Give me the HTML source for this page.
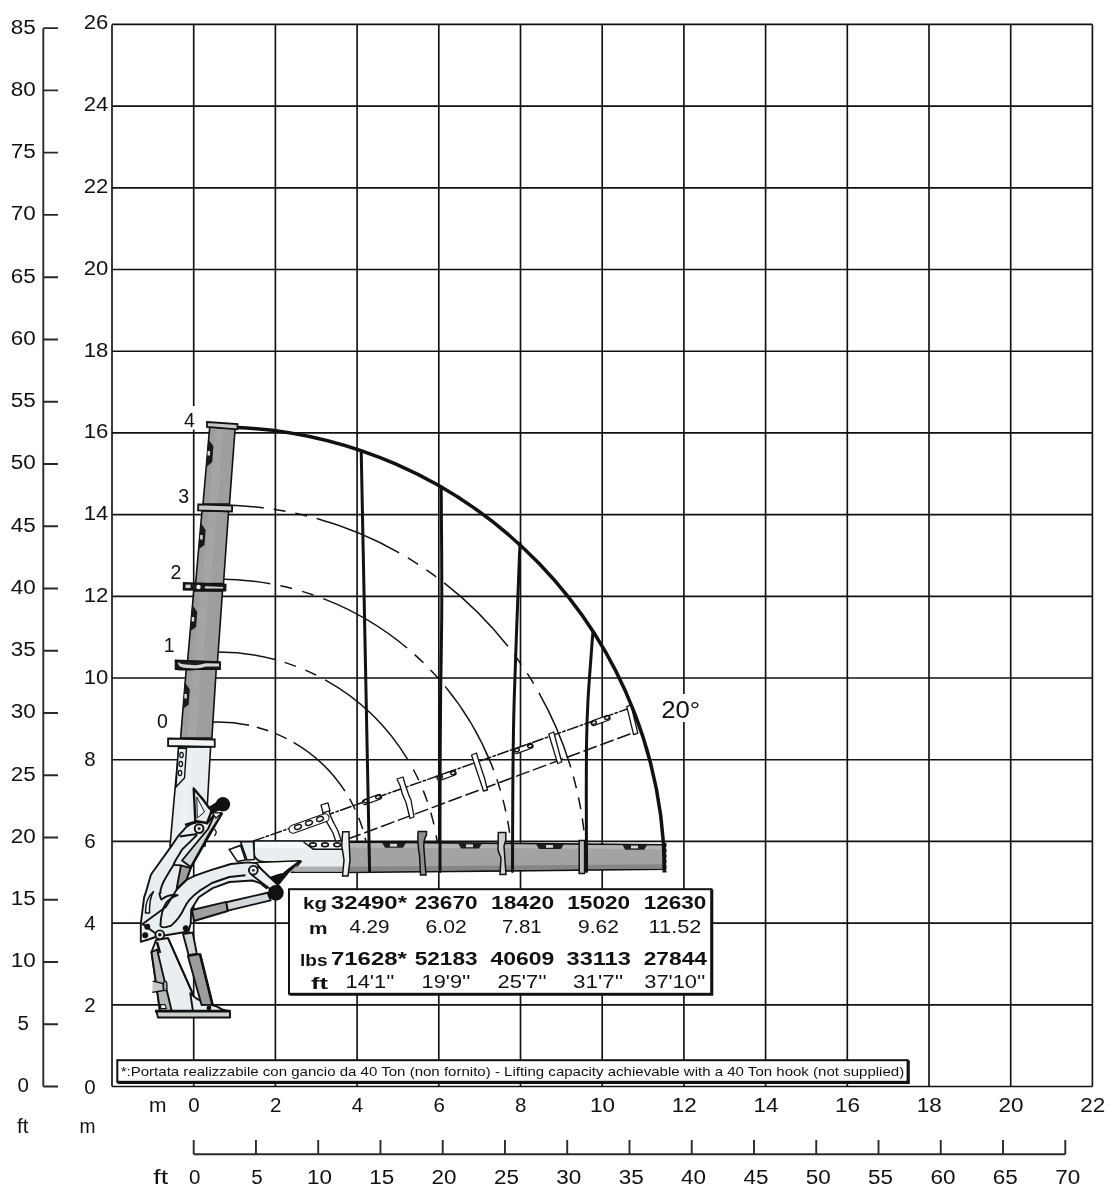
<!DOCTYPE html><html><head><meta charset="utf-8"><style>html,body{margin:0;padding:0;background:#fff;width:1112px;height:1200px;overflow:hidden}svg{display:block;will-change:transform}</style></head><body><svg width="1112" height="1200" viewBox="0 0 1112 1200"><path d="M112 24.4V1086.5M193.7 24.4V1086.5M275.4 24.4V1086.5M357.1 24.4V1086.5M438.8 24.4V1086.5M520.5 24.4V1086.5M602.2 24.4V1086.5M683.9 24.4V1086.5M765.6 24.4V1086.5M847.3 24.4V1086.5M929 24.4V1086.5M1010.7 24.4V1086.5M1092.4 24.4V1086.5M112 1086.5H1092.4M112 1004.8H1092.4M112 923.1H1092.4M112 841.4H1092.4M112 759.7H1092.4M112 678H1092.4M112 596.3H1092.4M112 514.6H1092.4M112 432.9H1092.4M112 351.2H1092.4M112 269.5H1092.4M112 187.8H1092.4M112 106.1H1092.4M112 24.4H1092.4" stroke="#111" stroke-width="1.65" fill="none"/>
<rect x="181" y="406" width="16" height="23.5" fill="#fff"/>
<path d="M43.3 28.16V1086.5M43.3 1086.5H58M43.3 1024.24H58M43.3 961.99H58M43.3 899.73H58M43.3 837.48H58M43.3 775.22H58M43.3 712.97H58M43.3 650.71H58M43.3 588.46H58M43.3 526.2H58M43.3 463.95H58M43.3 401.69H58M43.3 339.44H58M43.3 277.18H58M43.3 214.92H58M43.3 152.67H58M43.3 90.41H58M43.3 28.16H58" stroke="#2a2a2a" stroke-width="1.9" fill="none"/>
<path d="M193.7 1154.2H1065.28M193.7 1140V1154.2M255.96 1140V1154.2M318.21 1140V1154.2M380.47 1140V1154.2M442.72 1140V1154.2M504.98 1140V1154.2M567.23 1140V1154.2M629.49 1140V1154.2M691.74 1140V1154.2M754 1140V1154.2M816.25 1140V1154.2M878.51 1140V1154.2M940.76 1140V1154.2M1003.02 1140V1154.2M1065.28 1140V1154.2" stroke="#2a2a2a" stroke-width="1.9" fill="none"/>
<g font-family="'Liberation Sans', sans-serif" fill="#111">
<text x="84.3" y="1093.5" font-size="20.5" text-anchor="start" font-weight="normal">0</text>
<text x="84.3" y="1011.62" font-size="20.5" text-anchor="start" font-weight="normal">2</text>
<text x="84.3" y="929.75" font-size="20.5" text-anchor="start" font-weight="normal">4</text>
<text x="84.3" y="847.87" font-size="20.5" text-anchor="start" font-weight="normal">6</text>
<text x="84.3" y="765.99" font-size="20.5" text-anchor="start" font-weight="normal">8</text>
<text x="83.7" y="684.12" font-size="20.5" text-anchor="start" font-weight="normal" textLength="24.6" lengthAdjust="spacingAndGlyphs">10</text>
<text x="83.7" y="602.24" font-size="20.5" text-anchor="start" font-weight="normal" textLength="24.6" lengthAdjust="spacingAndGlyphs">12</text>
<text x="83.7" y="520.36" font-size="20.5" text-anchor="start" font-weight="normal" textLength="24.6" lengthAdjust="spacingAndGlyphs">14</text>
<text x="83.7" y="438.48" font-size="20.5" text-anchor="start" font-weight="normal" textLength="24.6" lengthAdjust="spacingAndGlyphs">16</text>
<text x="83.7" y="356.61" font-size="20.5" text-anchor="start" font-weight="normal" textLength="24.6" lengthAdjust="spacingAndGlyphs">18</text>
<text x="83.7" y="274.73" font-size="20.5" text-anchor="start" font-weight="normal" textLength="24.6" lengthAdjust="spacingAndGlyphs">20</text>
<text x="83.7" y="192.85" font-size="20.5" text-anchor="start" font-weight="normal" textLength="24.6" lengthAdjust="spacingAndGlyphs">22</text>
<text x="83.7" y="110.98" font-size="20.5" text-anchor="start" font-weight="normal" textLength="24.6" lengthAdjust="spacingAndGlyphs">24</text>
<text x="83.7" y="29.1" font-size="20.5" text-anchor="start" font-weight="normal" textLength="24.6" lengthAdjust="spacingAndGlyphs">26</text>
<text x="23.3" y="1091.9" font-size="20.5" text-anchor="middle" font-weight="normal">0</text>
<text x="23.3" y="1029.64" font-size="20.5" text-anchor="middle" font-weight="normal">5</text>
<text x="23.3" y="967.39" font-size="20.5" text-anchor="middle" font-weight="normal" textLength="25" lengthAdjust="spacingAndGlyphs">10</text>
<text x="23.3" y="905.13" font-size="20.5" text-anchor="middle" font-weight="normal" textLength="25" lengthAdjust="spacingAndGlyphs">15</text>
<text x="23.3" y="842.88" font-size="20.5" text-anchor="middle" font-weight="normal" textLength="25" lengthAdjust="spacingAndGlyphs">20</text>
<text x="23.3" y="780.62" font-size="20.5" text-anchor="middle" font-weight="normal" textLength="25" lengthAdjust="spacingAndGlyphs">25</text>
<text x="23.3" y="718.37" font-size="20.5" text-anchor="middle" font-weight="normal" textLength="25" lengthAdjust="spacingAndGlyphs">30</text>
<text x="23.3" y="656.11" font-size="20.5" text-anchor="middle" font-weight="normal" textLength="25" lengthAdjust="spacingAndGlyphs">35</text>
<text x="23.3" y="593.86" font-size="20.5" text-anchor="middle" font-weight="normal" textLength="25" lengthAdjust="spacingAndGlyphs">40</text>
<text x="23.3" y="531.6" font-size="20.5" text-anchor="middle" font-weight="normal" textLength="25" lengthAdjust="spacingAndGlyphs">45</text>
<text x="23.3" y="469.35" font-size="20.5" text-anchor="middle" font-weight="normal" textLength="25" lengthAdjust="spacingAndGlyphs">50</text>
<text x="23.3" y="407.09" font-size="20.5" text-anchor="middle" font-weight="normal" textLength="25" lengthAdjust="spacingAndGlyphs">55</text>
<text x="23.3" y="344.84" font-size="20.5" text-anchor="middle" font-weight="normal" textLength="25" lengthAdjust="spacingAndGlyphs">60</text>
<text x="23.3" y="282.58" font-size="20.5" text-anchor="middle" font-weight="normal" textLength="25" lengthAdjust="spacingAndGlyphs">65</text>
<text x="23.3" y="220.32" font-size="20.5" text-anchor="middle" font-weight="normal" textLength="25" lengthAdjust="spacingAndGlyphs">70</text>
<text x="23.3" y="158.07" font-size="20.5" text-anchor="middle" font-weight="normal" textLength="25" lengthAdjust="spacingAndGlyphs">75</text>
<text x="23.3" y="95.81" font-size="20.5" text-anchor="middle" font-weight="normal" textLength="25" lengthAdjust="spacingAndGlyphs">80</text>
<text x="23.3" y="33.56" font-size="20.5" text-anchor="middle" font-weight="normal" textLength="25" lengthAdjust="spacingAndGlyphs">85</text>
<text x="194" y="1111.5" font-size="20.5" text-anchor="middle" font-weight="normal">0</text>
<text x="275.7" y="1111.5" font-size="20.5" text-anchor="middle" font-weight="normal">2</text>
<text x="357.4" y="1111.5" font-size="20.5" text-anchor="middle" font-weight="normal">4</text>
<text x="439.1" y="1111.5" font-size="20.5" text-anchor="middle" font-weight="normal">6</text>
<text x="520.8" y="1111.5" font-size="20.5" text-anchor="middle" font-weight="normal">8</text>
<text x="602.5" y="1111.5" font-size="20.5" text-anchor="middle" font-weight="normal" textLength="25" lengthAdjust="spacingAndGlyphs">10</text>
<text x="684.2" y="1111.5" font-size="20.5" text-anchor="middle" font-weight="normal" textLength="25" lengthAdjust="spacingAndGlyphs">12</text>
<text x="765.9" y="1111.5" font-size="20.5" text-anchor="middle" font-weight="normal" textLength="25" lengthAdjust="spacingAndGlyphs">14</text>
<text x="847.6" y="1111.5" font-size="20.5" text-anchor="middle" font-weight="normal" textLength="25" lengthAdjust="spacingAndGlyphs">16</text>
<text x="929.3" y="1111.5" font-size="20.5" text-anchor="middle" font-weight="normal" textLength="25" lengthAdjust="spacingAndGlyphs">18</text>
<text x="1011" y="1111.5" font-size="20.5" text-anchor="middle" font-weight="normal" textLength="25" lengthAdjust="spacingAndGlyphs">20</text>
<text x="1092.7" y="1111.5" font-size="20.5" text-anchor="middle" font-weight="normal" textLength="25" lengthAdjust="spacingAndGlyphs">22</text>
<text x="194.7" y="1184.3" font-size="20.5" text-anchor="middle" font-weight="normal">0</text>
<text x="257.06" y="1184.3" font-size="20.5" text-anchor="middle" font-weight="normal">5</text>
<text x="319.41" y="1184.3" font-size="20.5" text-anchor="middle" font-weight="normal" textLength="25" lengthAdjust="spacingAndGlyphs">10</text>
<text x="381.77" y="1184.3" font-size="20.5" text-anchor="middle" font-weight="normal" textLength="25" lengthAdjust="spacingAndGlyphs">15</text>
<text x="444.12" y="1184.3" font-size="20.5" text-anchor="middle" font-weight="normal" textLength="25" lengthAdjust="spacingAndGlyphs">20</text>
<text x="506.48" y="1184.3" font-size="20.5" text-anchor="middle" font-weight="normal" textLength="25" lengthAdjust="spacingAndGlyphs">25</text>
<text x="568.83" y="1184.3" font-size="20.5" text-anchor="middle" font-weight="normal" textLength="25" lengthAdjust="spacingAndGlyphs">30</text>
<text x="631.19" y="1184.3" font-size="20.5" text-anchor="middle" font-weight="normal" textLength="25" lengthAdjust="spacingAndGlyphs">35</text>
<text x="693.54" y="1184.3" font-size="20.5" text-anchor="middle" font-weight="normal" textLength="25" lengthAdjust="spacingAndGlyphs">40</text>
<text x="755.9" y="1184.3" font-size="20.5" text-anchor="middle" font-weight="normal" textLength="25" lengthAdjust="spacingAndGlyphs">45</text>
<text x="818.25" y="1184.3" font-size="20.5" text-anchor="middle" font-weight="normal" textLength="25" lengthAdjust="spacingAndGlyphs">50</text>
<text x="880.61" y="1184.3" font-size="20.5" text-anchor="middle" font-weight="normal" textLength="25" lengthAdjust="spacingAndGlyphs">55</text>
<text x="942.96" y="1184.3" font-size="20.5" text-anchor="middle" font-weight="normal" textLength="25" lengthAdjust="spacingAndGlyphs">60</text>
<text x="1005.32" y="1184.3" font-size="20.5" text-anchor="middle" font-weight="normal" textLength="25" lengthAdjust="spacingAndGlyphs">65</text>
<text x="1067.68" y="1184.3" font-size="20.5" text-anchor="middle" font-weight="normal" textLength="25" lengthAdjust="spacingAndGlyphs">70</text>
<text x="157.7" y="1111.5" font-size="20.5" text-anchor="middle" font-weight="normal" textLength="17.5" lengthAdjust="spacingAndGlyphs">m</text>
<text x="160.7" y="1184.3" font-size="20.5" text-anchor="middle" font-weight="normal" textLength="15" lengthAdjust="spacingAndGlyphs">ft</text>
<text x="22.8" y="1132.8" font-size="20.5" text-anchor="middle" font-weight="normal">ft</text>
<text x="87.5" y="1132.8" font-size="20.5" text-anchor="middle" font-weight="normal" textLength="16" lengthAdjust="spacingAndGlyphs">m</text>
<text x="189.35" y="427" font-size="19.5" text-anchor="middle" font-weight="normal">4</text>
<text x="183.8" y="502.9" font-size="19.5" text-anchor="middle" font-weight="normal">3</text>
<text x="175.9" y="579" font-size="19.5" text-anchor="middle" font-weight="normal">2</text>
<text x="169.25" y="651.9" font-size="19.5" text-anchor="middle" font-weight="normal">1</text>
<text x="162.5" y="728.1" font-size="19.5" text-anchor="middle" font-weight="normal">0</text>
</g>
<path d="M209.54 722.21A152 152 0 0 1 249.1 725.32M293.5 742.36A152 152 0 0 1 344.98 791.21M205.88 652.3A222 222 0 0 1 274.96 659.56M325.13 679.83A222 222 0 0 1 407.79 759.66M207.2 579.18A295 295 0 0 1 270.25 583.75M323.22 598.59A295 295 0 0 1 407.12 648.02M445.13 686.36A295 295 0 0 1 493.64 770.21M211.06 505.06A369 369 0 0 1 263.75 507.91M316.73 518.59A369 369 0 0 1 399.2 552.84M444.17 582.83A369 369 0 0 1 507.88 646.31M538.98 692.86A369 369 0 0 1 570.75 767.35" stroke="#111" stroke-width="1.5" fill="none"/>
<path d="M249.1 725.32A152 152 0 0 1 293.5 742.36" stroke="#111" stroke-width="1.5" fill="none" stroke-dasharray="12 7.92" stroke-dashoffset="12"/>
<path d="M344.98 791.21A152 152 0 0 1 368.67 858.11" stroke="#111" stroke-width="1.5" fill="none" stroke-dasharray="12 8.91" stroke-dashoffset="12"/>
<path d="M274.96 659.56A222 222 0 0 1 325.13 679.83" stroke="#111" stroke-width="1.5" fill="none" stroke-dasharray="12 10.08" stroke-dashoffset="12"/>
<path d="M407.79 759.66A222 222 0 0 1 438.96 858.51" stroke="#111" stroke-width="1.5" fill="none" stroke-dasharray="12 11.32" stroke-dashoffset="12"/>
<path d="M270.25 583.75A295 295 0 0 1 323.22 598.59" stroke="#111" stroke-width="1.5" fill="none" stroke-dasharray="12 10.36" stroke-dashoffset="12"/>
<path d="M407.12 648.02A295 295 0 0 1 445.13 686.36" stroke="#111" stroke-width="1.5" fill="none" stroke-dasharray="12 10.02" stroke-dashoffset="12"/>
<path d="M493.64 770.21A295 295 0 0 1 512.32 863.7" stroke="#111" stroke-width="1.5" fill="none" stroke-dasharray="12 9.55" stroke-dashoffset="12"/>
<path d="M263.75 507.91A369 369 0 0 1 316.73 518.59" stroke="#111" stroke-width="1.5" fill="none" stroke-dasharray="12 10.03" stroke-dashoffset="12"/>
<path d="M399.2 552.84A369 369 0 0 1 444.17 582.83" stroke="#111" stroke-width="1.5" fill="none" stroke-dasharray="12 10.03" stroke-dashoffset="12"/>
<path d="M507.88 646.31A369 369 0 0 1 538.98 692.86" stroke="#111" stroke-width="1.5" fill="none" stroke-dasharray="12 10.68" stroke-dashoffset="12"/>
<path d="M570.75 767.35A369 369 0 0 1 586.28 861.12" stroke="#111" stroke-width="1.5" fill="none" stroke-dasharray="12 9.46" stroke-dashoffset="12"/><g stroke-linejoin="round" stroke-linecap="round">
<!-- inclined boom 20deg -->
<path d="M253.5 841L627.8 708.8" stroke="#111" stroke-width="1.5" fill="none" stroke-dasharray="11 2.5 2.5 2.5"/>
<path d="M347.9 839L633.8 732.5" stroke="#111" stroke-width="1.5" fill="none" stroke-dasharray="13 5"/>
<g fill="#fff" stroke="#111" stroke-width="1.3">
<path d="M626.8 706.6l4.2-1.6 6.8 28.2-4.2 1.5z"/>
<path d="M321 805l7-2.2 2 8-7 2.2z"/>
<path d="M323 813l6-2c2 8 6 14 9 20l3 9-5 2-3-9c-3-6-8-12-10-20z"/>
<path d="M397 779l6-2 2 7c2 6 3 10 6 16l3 17-4 1.5-4-16c-3-6-5-12-6-17z"/>
<path d="M471.5 755l5-2 2 7 6 18 3 12-4 1-4-12-4-12z"/>
<path d="M548.7 734l5-2 8 30-4 1.5z"/>
</g>
<g fill="#fff" stroke="#111" stroke-width="1.1">
<rect x="-21" y="-4" width="42" height="8" rx="4" transform="translate(309 823.5) rotate(-19.5)"/>
<rect x="-10" y="-2.5" width="20" height="5" rx="2.5" transform="translate(446.5 775.5) rotate(-19.5)"/>
<rect x="-10" y="-2.5" width="20" height="5" rx="2.5" transform="translate(523.5 748.5) rotate(-19.5)"/>
<rect x="-10" y="-2.5" width="20" height="5" rx="2.5" transform="translate(600.5 720.5) rotate(-19.5)"/>
<rect x="-10" y="-2.5" width="20" height="5" rx="2.5" transform="translate(372 799.5) rotate(-19.5)"/>
</g>
<g fill="none" stroke="#111" stroke-width="1.4">
<ellipse cx="298" cy="827" rx="3.6" ry="2.2" transform="rotate(-20 298 827)"/>
<ellipse cx="309" cy="823" rx="3.6" ry="2.2" transform="rotate(-20 309 823)"/>
<ellipse cx="320" cy="819" rx="3.6" ry="2.2" transform="rotate(-20 320 819)"/>
<ellipse cx="366" cy="801" rx="2.4" ry="1.6" transform="rotate(-20 366 801)"/>
<ellipse cx="378" cy="797" rx="2.4" ry="1.6" transform="rotate(-20 378 797)"/>
<ellipse cx="440" cy="777" rx="2.4" ry="1.6" transform="rotate(-20 440 777)"/>
<ellipse cx="453" cy="773" rx="2.4" ry="1.6" transform="rotate(-20 453 773)"/>
<ellipse cx="517" cy="750" rx="2.4" ry="1.6" transform="rotate(-20 517 750)"/>
<ellipse cx="530" cy="746" rx="2.4" ry="1.6" transform="rotate(-20 530 746)"/>
<ellipse cx="594" cy="722.6" rx="2.4" ry="1.6" transform="rotate(-20 594 722.6)"/>
<ellipse cx="607" cy="717.7" rx="2.4" ry="1.6" transform="rotate(-20 607 717.7)"/>
</g>
</g>
<!-- horizontal boom -->
<g stroke="#111" stroke-width="1.6">
<path d="M345 842L665 844.7L665 869.3L345 872.5z" fill="#a3a3a3"/>
<path d="M346 843.3L664 845.9L664 849.2L346 847.5z" fill="#b4b4b4" stroke="none"/>
<path d="M346 866.8L664 864.3L664 868.3L346 871.3z" fill="#868686" stroke="none"/>
<path d="M254 841H345V872.3H292L300.8 861.8H264Q254 861 254 852z" fill="#e9eef1"/>
<path d="M255 842H344V847.7H255z" fill="#f7f8f9" stroke="none"/>
<path d="M288 866.6H344.2V871.4H288z" fill="#b0b0b0" stroke="none"/>
<path d="M240.6 841.7H253.5L254.4 859.5L247 860z" fill="#e9eef1"/>
<path d="M229.3 849.4L240.6 845.4L245.5 860L237.4 861.6z" fill="#fff"/>
<path d="M303.5 842L313.3 849.2H342" fill="none" stroke-width="1.5"/>
</g>
<g fill="#1e1e1e" stroke="none">
<path d="M382 842.8h24l-3 5h-18z"/><path d="M458.3 843.4H482l-3 5h-18z"/><path d="M536 844h28l-3 5h-22z"/><path d="M622.4 844.7h24.8l-3 5h-19z"/>
</g>
<g fill="#d8d8d8" stroke="none">
<rect x="390" y="843.8" width="7" height="2.8"/><rect x="466" y="844.4" width="7" height="2.8"/><rect x="546" y="845" width="7" height="2.8"/><rect x="631" y="845.6" width="7" height="2.8"/>
</g>
<g fill="none" stroke="#111" stroke-width="1.6">
<ellipse cx="312.9" cy="844.8" rx="3.4" ry="1.9"/><ellipse cx="325" cy="844.8" rx="3.4" ry="1.9"/><ellipse cx="337.2" cy="844.8" rx="3.4" ry="1.9"/>
</g>
<g fill="#eeeeee" stroke="#111" stroke-width="1.5">
<path d="M342.7 831.7H349V838.5L350 860L348 876H342.5L344 860L341.7 845z"/>
<path d="M418.2 831.5H426.5V835Q423 840 424 850L426 875H420.5L419.5 855Q417 842 418.2 831.5z" fill="#8f8f8f"/>
<path d="M498.3 832.4H505.8V840L504 846L506 874.5H500L501 858L498 850z" fill="#cfcfcf"/>
<path d="M579.2 840.5H584.6V873.4H579.2z" fill="#bdbdbd"/>
</g>
<path d="M664.5 843V872.5" stroke="#111" stroke-width="4" stroke-dasharray="4 1.5"/>
<!-- vertical boom -->
<g stroke="#111" stroke-width="1.6">
<path d="M209.7 427L235.1 428.5L229.5 504L203 504z" fill="#9e9e9e"/>
<path d="M202 511L228.6 511L223.5 583.5L195.6 583.5z" fill="#9e9e9e"/>
<path d="M193.75 591L222.5 591L217.5 662L187.5 662z" fill="#9e9e9e"/>
<path d="M186.25 669L216.25 669L211.9 738L180.6 738z" fill="#9e9e9e"/>
<path d="M178.75 747L210.6 747L205 846L170 846z" fill="#e9eef1"/>
</g>
<g fill="#a4a4a4" stroke="none">
<path d="M215 429L223 429.5L218 503L209.5 503z"/>
<path d="M208 512L216 512L211.5 582.5L203 582.5z"/>
<path d="M200 592L208 592L203.5 661L195 661z"/>
<path d="M192.5 670L200.5 670L196.5 737L188 737z"/>
</g>
<path d="M187 749L193 749L185 844L179 844z" fill="#eef1f3" stroke="none"/>
<g fill="#1a1a1a" stroke="none">
<path d="M208.3 439.5L213.4 446L212.2 462L205.9 467.5z"/>
<path d="M200.6 522.5L205.6 530L204.5 545L198.3 549.5z"/>
<path d="M192.2 604.5L197.2 612L196.1 627L189.9 631.5z"/>
<path d="M184.8 682L189.8 689.5L188.7 704.5L182.7 709.2z"/>
</g>
<g fill="#ddd" stroke="none">
<rect x="207.6" y="451" width="2.4" height="4.5"/><rect x="200.2" y="535" width="2.4" height="4.5"/><rect x="191.8" y="617" width="2.4" height="4.5"/><rect x="184.4" y="694" width="2.4" height="4.5"/>
</g>
<g fill="#c9c9c9" stroke="#111" stroke-width="1.8">
<path d="M207 422L237.5 424.1L237.5 429.3L207 426.8z"/>
<path d="M198.3 504.3L232.2 505.5L232 511.5L198 510.5z"/>
<path d="M183.75 583L225.6 584.5L225.4 590.6L183.6 589.5z" fill="#1e1e1e"/>
<path d="M175.6 660.5L220 662L220 669L196 669Q186 670 175.6 669z" fill="#1e1e1e"/>
<path d="M168.1 738.5L214.75 739.5L214.75 746.9L168.1 746z" fill="#f4f4f4"/>
</g>
<g fill="#d6d6d6" stroke="none">
<rect x="185.5" y="584.6" width="5" height="3.4"/><circle cx="198.5" cy="587" r="2.2" fill="#eee"/><path d="M205 586.3L223 587L223 588.6L205 588.4z"/>
<path d="M178 662Q180 664 186 664.5L196 665.3Q202 664.5 206 663.3L219 663.6L219 666.6L206 666.5Q200 668.7 195 668.6L184 667.8Q177.5 666.5 178 662z"/>
</g>
<path d="M178.5 748L186.5 748.5L184.5 778L176 787z" fill="#e9eef1" stroke="#111" stroke-width="1.4"/>
<g fill="none" stroke="#111" stroke-width="1.3">
<ellipse cx="181.5" cy="755" rx="1.7" ry="2.6"/><ellipse cx="180.8" cy="764" rx="1.7" ry="2.6"/><ellipse cx="180" cy="773" rx="1.7" ry="2.6"/>
</g>
<g stroke="#111" stroke-width="1.9" stroke-linejoin="round">
<!-- pedestal -->
<path d="M151.5 952L156 940L168 938L192 992L193.5 1011L160 1011z" fill="#e9eef1"/>
<path d="M151.5 952L157.1 949.6L171.7 1011L160 1011z" fill="#b9b9b9"/>
<path d="M157 942L160 953" stroke-width="2.5"/>
<path d="M168 938L192 992" stroke-width="1.8"/>
<path d="M190.3 993.3Q200 1003 216.2 1006.2L222 1009.4L230 1011.5H193z" fill="#e9eef1"/>
<path d="M152.7 981.1L163 983.5L163.5 990.5L152.3 992.4" fill="#c8c8c8" stroke-width="1.4"/>
<ellipse cx="165.2" cy="986" rx="1.8" ry="4.8" fill="#aaa" stroke-width="1.3"/>
<path d="M160.4 1004.6H165L166.4 1008.6H161z" fill="#fff" stroke-width="1.2"/>
<circle cx="208.9" cy="1008" r="2.4" fill="#111" stroke="none"/>
<!-- base cylinder -->
<path d="M183 934L192.7 932.5L196.8 953.6L188.7 955.2z" fill="#d2d6d8"/>
<path d="M187.9 956L200 954L212.5 1004.6L201.6 1005z" fill="#9c9c9c"/>
<path d="M200 954L212.5 1004.6" stroke-width="2.6"/>
<!-- base plate -->
<path d="M156.3 1011H230V1017.5H158z" fill="#cfcfcf"/>
<path d="M155 1011.2H230" stroke-width="2.8"/>
<!-- lower cylinder -->
<path d="M192 910L226.3 901.9L227.8 911L194 921z" fill="#a0a0a0"/>
<path d="M226.3 902.3L267.6 892.7L270.7 900.4L227.8 910.6z" fill="#d3d7d9"/>
<!-- silhouette -->
<path d="M140.8 941.8L140.8 923.4L144.1 897.4L146.3 890.9L150.6 875.7L151.7 873.5L171.2 846.4L177.7 836.7L186.4 826.9L190.7 824.2L196.1 822.6L204.8 821.5L207 823.7L214.8 813.8L221.9 813.8L190.7 868.1L186.4 880L195 875.7L210 870.3L230.9 864L247.9 862.4L256.8 863.2L268.9 877.7L266.5 888.3L260 883L252.3 880.5L229.4 882L212.6 888.1L198.8 897.3L191.2 909.5L190.7 923.4L188.5 931.5L165.8 935.3L158.2 936L150 939z" fill="#e9eef1"/>
<!-- slot region and cylinder -->
<path d="M181 865.4L190.7 868.1L186.4 880L176.6 888.7z" fill="#9e9e9e"/>
<path d="M182 860.5L208 829L214.8 813.8L221.9 813.8L210 832.3L190.7 867z" fill="#d3d7d9"/>
<g fill="none">
<path d="M197.2 834.5L194 837.8L182 849.7L175.5 860.5L173.4 864.9L166.9 875.7Q160 887 160.4 893Q158 892 161.4 899.6Q168 894 177.7 895.2Q170 898 166 903Q161 911 160.4 925.6Q162 929 171.2 925.6Q180 918 184.2 908.2Q188 899 199.4 890.9L212 883L229.3 877L245.5 875.3"/>
<path d="M141.9 924.5L165.8 907.1L176.6 889.8L186.4 880"/>
<path d="M141.9 923.4L158.2 935.3"/>
<path d="M173.4 864.9L181 865.4"/>
<path d="M179.5 836.5L197 834"/>
<path d="M145.5 913Q145 899 153.5 891.5Q149 899 149.5 913z" fill="#fff" stroke-width="1.5"/>
<path d="M214.3 829Q218 832 214.5 836" stroke-width="1.3"/>
</g>
<path d="M185 824.8L195.8 821.6L206.1 821.6" fill="none" stroke-width="2.4"/>
<!-- spike up + black circle -->
<path d="M193.7 788.5Q199 795 202.9 799.4L208.8 807.5L212 810L207 823L195.3 821z" fill="#e9eef1" stroke-width="2.4"/>
<path d="M196.8 797L197.3 818L204.5 812z" fill="#f4f6f7" stroke="#111" stroke-width="1"/>
<path d="M208.8 807.5L216 803L219 810L212 813z" fill="#111" stroke-width="1.2"/>
<circle cx="222.9" cy="804.3" r="6.3" fill="#111"/>
<path d="M212 812.9L221.8 812.9L216 818z" fill="#fff" stroke-width="1.3"/>
<circle cx="199.1" cy="828.6" r="4.4" fill="#e9eef1"/>
<circle cx="199.1" cy="828.6" r="1.5" fill="#333" stroke="none"/>
<!-- second knuckle -->
<path d="M256 862.5L300.4 860.7L284 872.7L268.3 878.4L262 870z" fill="#fff" stroke-width="1.6"/>
<path d="M268.3 878.4L284 872.7L300.4 860.7L288 873L279 884L270 886z" fill="#111" stroke-width="1.2"/>
<path d="M272 875L290 866L283 873z" fill="#fff" stroke="none"/>
<path d="M258.5 866.5L280 887L274 892L252 875z" fill="#eef1f3" stroke-width="1.8"/>
<circle cx="275.9" cy="892.8" r="6.9" fill="#111"/>
<circle cx="253.3" cy="870.3" r="4.4" fill="#e9eef1"/>
<circle cx="253.3" cy="870.3" r="1.4" fill="#333" stroke="none"/>
<!-- housing dots -->
<circle cx="159.8" cy="934.8" r="4.4" fill="#e9eef1"/>
<circle cx="159.8" cy="934.8" r="1.8" fill="#111" stroke="none"/>
<circle cx="147.3" cy="926.7" r="3" fill="#111" stroke="none"/>
<circle cx="145.2" cy="935.3" r="3" fill="#111" stroke="none"/>
<circle cx="185.8" cy="928.3" r="3" fill="#111" stroke="none"/>
</g>

<path d="M361.2 450.8C362.6 520.92 368.2 801.38 369.6 871.5M441.2 487.2C441.3 506 441.9 564.53 441.8 600C441.7 635.47 440.88 670 440.6 700C440.32 730 440.2 751.42 440.1 780C440 808.58 440.02 856.25 440 871.5M520.5 544.4C520.3 547 520.35 534.07 519.3 560C518.25 585.93 515.27 663.33 514.2 700C513.13 736.67 513.18 751.42 512.9 780C512.62 808.58 512.57 856.25 512.5 871.5M593 631.9C592.82 634.08 592.73 633.65 591.9 645C591.07 656.35 588.88 684.17 588 700C587.12 715.83 586.88 723.33 586.6 740C586.32 756.67 586.3 778.08 586.3 800C586.3 821.92 586.55 859.58 586.6 871.5" stroke="#111" stroke-width="3" fill="none" stroke-linecap="round"/>
<path d="M237.78 427.46A447 447 0 0 1 664.49 870.88" stroke="#111" stroke-width="3.5" fill="none"/>

<rect x="289" y="889.2" width="422.4" height="104.6" fill="#fff" stroke="#111" stroke-width="2"/>
<path d="M711.9 889.5V994.4H289.5" stroke="#111" stroke-width="2.8" fill="none"/>
<g font-family="'Liberation Sans', sans-serif" fill="#111">
<text x="331" y="908.5" font-size="17.8" text-anchor="start" font-weight="bold" textLength="76" lengthAdjust="spacingAndGlyphs">32490*</text>
<text x="414.7" y="908.5" font-size="17.8" text-anchor="start" font-weight="bold" textLength="62.9" lengthAdjust="spacingAndGlyphs">23670</text>
<text x="491.1" y="908.5" font-size="17.8" text-anchor="start" font-weight="bold" textLength="63.1" lengthAdjust="spacingAndGlyphs">18420</text>
<text x="567.2" y="908.5" font-size="17.8" text-anchor="start" font-weight="bold" textLength="63" lengthAdjust="spacingAndGlyphs">15020</text>
<text x="643.7" y="908.5" font-size="17.8" text-anchor="start" font-weight="bold" textLength="62.6" lengthAdjust="spacingAndGlyphs">12630</text>
<text x="349.4" y="933.4" font-size="18.6" text-anchor="start" font-weight="normal" textLength="40.2" lengthAdjust="spacingAndGlyphs">4.29</text>
<text x="425.6" y="933.4" font-size="18.6" text-anchor="start" font-weight="normal" textLength="41.2" lengthAdjust="spacingAndGlyphs">6.02</text>
<text x="501.9" y="933.4" font-size="18.6" text-anchor="start" font-weight="normal" textLength="39.8" lengthAdjust="spacingAndGlyphs">7.81</text>
<text x="578.1" y="933.4" font-size="18.6" text-anchor="start" font-weight="normal" textLength="40.8" lengthAdjust="spacingAndGlyphs">9.62</text>
<text x="648.6" y="933.4" font-size="18.6" text-anchor="start" font-weight="normal" textLength="52.8" lengthAdjust="spacingAndGlyphs">11.52</text>
<text x="331" y="965.3" font-size="17.8" text-anchor="start" font-weight="bold" textLength="75.8" lengthAdjust="spacingAndGlyphs">71628*</text>
<text x="414.7" y="965.3" font-size="17.8" text-anchor="start" font-weight="bold" textLength="62.9" lengthAdjust="spacingAndGlyphs">52183</text>
<text x="490.4" y="965.3" font-size="17.8" text-anchor="start" font-weight="bold" textLength="63.8" lengthAdjust="spacingAndGlyphs">40609</text>
<text x="566.6" y="965.3" font-size="17.8" text-anchor="start" font-weight="bold" textLength="64.2" lengthAdjust="spacingAndGlyphs">33113</text>
<text x="643.7" y="965.3" font-size="17.8" text-anchor="start" font-weight="bold" textLength="63.3" lengthAdjust="spacingAndGlyphs">27844</text>
<text x="345.5" y="988.4" font-size="18.6" text-anchor="start" font-weight="normal" textLength="49" lengthAdjust="spacingAndGlyphs">14'1''</text>
<text x="421.6" y="988.4" font-size="18.6" text-anchor="start" font-weight="normal" textLength="48.7" lengthAdjust="spacingAndGlyphs">19'9''</text>
<text x="497.5" y="988.4" font-size="18.6" text-anchor="start" font-weight="normal" textLength="49.1" lengthAdjust="spacingAndGlyphs">25'7''</text>
<text x="573.1" y="988.4" font-size="18.6" text-anchor="start" font-weight="normal" textLength="50.2" lengthAdjust="spacingAndGlyphs">31'7''</text>
<text x="644.3" y="988.4" font-size="18.6" text-anchor="start" font-weight="normal" textLength="61" lengthAdjust="spacingAndGlyphs">37'10''</text>
<text x="303" y="908.7" font-size="17" text-anchor="start" font-weight="bold" textLength="24" lengthAdjust="spacingAndGlyphs">kg</text>
<text x="309" y="933.8" font-size="17" text-anchor="start" font-weight="bold" textLength="18.5" lengthAdjust="spacingAndGlyphs">m</text>
<text x="300" y="965.5" font-size="17" text-anchor="start" font-weight="bold" textLength="27.5" lengthAdjust="spacingAndGlyphs">lbs</text>
<text x="311" y="988.8" font-size="17" text-anchor="start" font-weight="bold" textLength="17" lengthAdjust="spacingAndGlyphs">ft</text>
</g>
<rect x="117.3" y="1060.2" width="790.3" height="21.6" fill="#fff" stroke="#111" stroke-width="2"/>
<path d="M908.5 1060.5V1082.8H117.5" stroke="#111" stroke-width="2.6" fill="none"/>
<g font-family="'Liberation Sans', sans-serif" fill="#111">
<text x="120.7" y="1076" font-size="13" text-anchor="start" font-weight="normal" textLength="783.5" lengthAdjust="spacingAndGlyphs">*:Portata realizzabile con gancio da 40 Ton (non fornito) - Lifting capacity achievable with a 40 Ton hook (not supplied)</text>
</g>
<rect x="658" y="694" width="46" height="28" fill="#fff"/>
<g font-family="'Liberation Sans', sans-serif" fill="#111">
<text x="661.2" y="717.6" font-size="23.5" text-anchor="start" font-weight="normal" textLength="39" lengthAdjust="spacingAndGlyphs">20°</text>
</g></svg></body></html>
